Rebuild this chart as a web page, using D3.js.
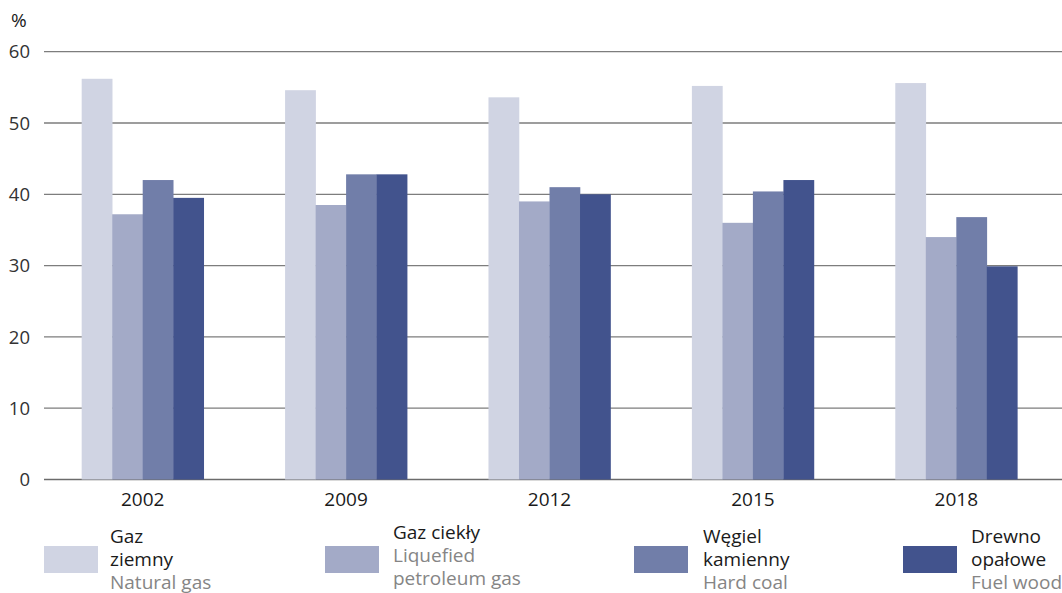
<!DOCTYPE html>
<html>
<head>
<meta charset="utf-8">
<script src="https://cdn.jsdelivr.net/npm/d3@7"></script>
<style>
  body { margin: 0; background: #fff; }
  svg { display: block; font-family: "Open Sans", sans-serif; }
</style>
</head>
<body>
<div id="vis"></div>
<script>
// data
const YEARS = ["2002", "2009", "2012", "2015", "2018"];
const SERIES = ["gas", "lpg", "coal", "wood"];
const NATURAL_GAS = [56.2, 54.6, 53.6, 55.2, 55.6];
const LPG = [37.2, 38.5, 39.0, 36.0, 34.0];
const HARD_COAL = [42.0, 42.8, 41.0, 40.4, 36.8];
const FUEL_WOOD = [39.5, 42.8, 40.0, 42.0, 29.9];
const Y_TICKS = [0, 10, 20, 30, 40, 50, 60];
const LEGEND_PL = [["Gaz", "ziemny"], ["Gaz ciekły"], ["Węgiel", "kamienny"], ["Drewno", "opałowe"]];
const LEGEND_EN = [["Natural gas"], ["Liquefied", "petroleum gas"], ["Hard coal"], ["Fuel wood"]];

const COLORS = ["#d0d4e3", "#a3aac7", "#717ea9", "#42538d"];

const FRAME_WIDTH = 1062;
const FRAME_HEIGHT = 593;

const VALUES = [NATURAL_GAS, LPG, HARD_COAL, FUEL_WOOD];

const FRAME = d3.select("#vis")
                .append("svg")
                    .attr("width", FRAME_WIDTH)
                    .attr("height", FRAME_HEIGHT);

const Y_SCALE = d3.scaleLinear()
                    .domain([0, 60])
                    .range([479.5, 51.7]);

const X_SCALE = d3.scaleBand()
                    .domain(YEARS)
                    .range([41, 1058])
                    .paddingInner(0.4)
                    .paddingOuter(0.2);

const X_INNER = d3.scaleBand()
                    .domain(SERIES)
                    .range([0, X_SCALE.bandwidth()]);

// gridlines
FRAME.append("g")
    .selectAll("line")
    .data(Y_TICKS)
    .enter()
    .append("line")
        .attr("x1", 44)
        .attr("x2", FRAME_WIDTH)
        .attr("y1", (d) => Y_SCALE(d))
        .attr("y2", (d) => Y_SCALE(d))
        .attr("stroke", (d) => d === 0 ? "#6b6b6b" : "#7d7d7d")
        .attr("stroke-width", (d) => d === 0 ? 1.6 : 1.3);

// y labels
FRAME.append("g")
    .selectAll("text")
    .data(Y_TICKS)
    .enter()
    .append("text")
        .attr("x", 30)
        .attr("y", (d) => Y_SCALE(d))
        .attr("dy", "0.36em")
        .attr("text-anchor", "end")
        .attr("font-size", "18.5px")
        .attr("fill", "#333")
        .text((d) => d);

FRAME.append("text")
    .attr("x", 11)
    .attr("y", 27)
    .attr("font-size", "19px")
    .attr("fill", "#1a1a1a")
    .text("%");

// bars
const GROUPS = FRAME.append("g")
    .selectAll("g")
    .data(YEARS)
    .enter()
    .append("g")
        .attr("transform", (d) => "translate(" + X_SCALE(d) + ",0)");

GROUPS.selectAll("rect")
    .data((d, i) => SERIES.map((s, j) => ({ key: s, value: VALUES[j][i], color: COLORS[j] })))
    .enter()
    .append("rect")
        .attr("x", (d) => X_INNER(d.key))
        .attr("width", X_INNER.bandwidth() + 0.3)
        .attr("y", (d) => Y_SCALE(d.value))
        .attr("height", (d) => Y_SCALE(0) - Y_SCALE(d.value))
        .attr("fill", (d) => d.color);

// x axis labels
FRAME.append("g")
    .selectAll("text")
    .data(YEARS)
    .enter()
    .append("text")
        .attr("x", (d) => X_SCALE(d) + X_SCALE.bandwidth() / 2)
        .attr("y", 506)
        .attr("text-anchor", "middle")
        .attr("font-size", "19px")
        .attr("fill", "#1a1a1a")
        .text((d) => d);

// legend
const LEG_X = [44, 325, 634, 903];
const LEG_TEXT_X = [110, 393, 703, 971];
const LEG_TOP = [543, 539, 543, 543];

const LEGEND = FRAME.append("g")
    .selectAll("g")
    .data(SERIES)
    .enter()
    .append("g");

LEGEND.append("rect")
    .attr("x", (d, i) => LEG_X[i])
    .attr("y", 546)
    .attr("width", 54)
    .attr("height", 27)
    .attr("fill", (d, i) => COLORS[i]);

LEGEND.each(function (d, i) {
    const lines = LEGEND_PL[i].map((t) => ({ t: t, c: "#1a1a1a" }))
        .concat(LEGEND_EN[i].map((t) => ({ t: t, c: "#858585" })));
    d3.select(this).selectAll("text")
        .data(lines)
        .enter()
        .append("text")
            .attr("x", LEG_TEXT_X[i])
            .attr("y", (l, k) => LEG_TOP[i] + k * 23)
            .attr("font-size", "19px")
            .attr("fill", (l) => l.c)
            .text((l) => l.t);
});
</script>
</body>
</html>
